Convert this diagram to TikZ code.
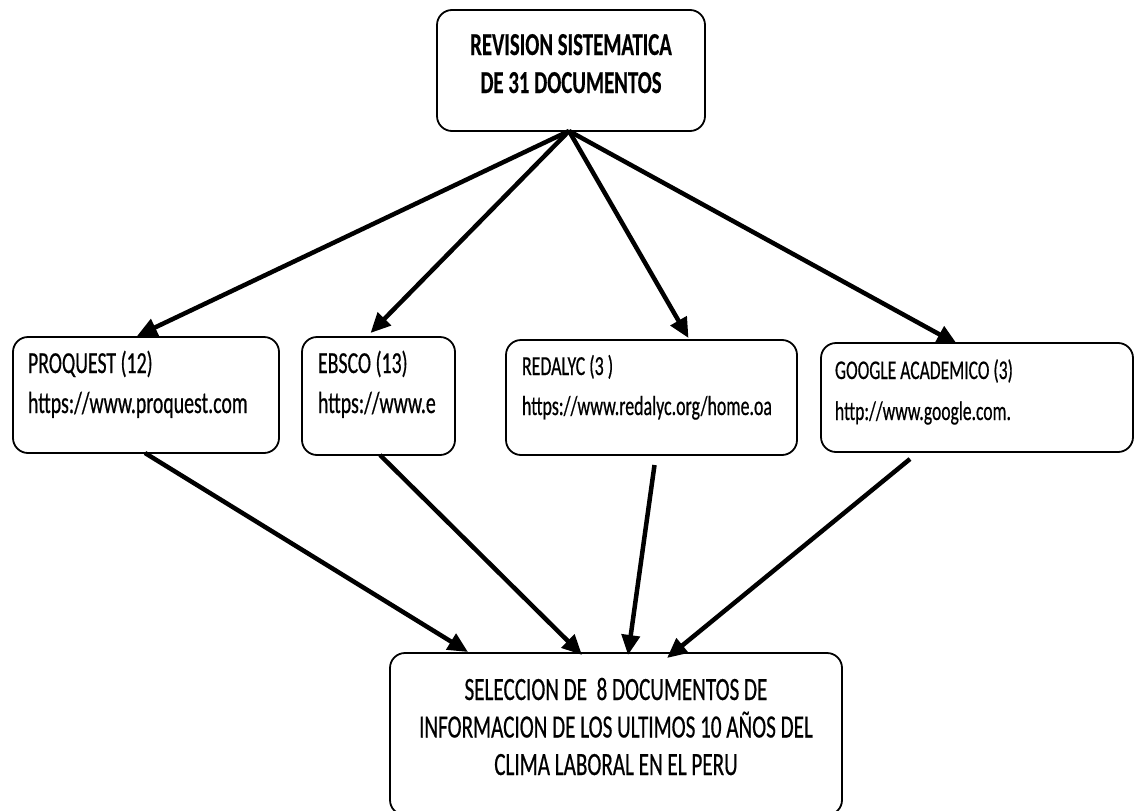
\documentclass[tikz,border=0pt]{standalone}
\usepackage{fontspec}
\setmainfont{Carlito}[FakeStretch=0.65, UprightFeatures={FakeBold=0.5}, BoldFeatures={FakeBold=0.3}]
\usetikzlibrary{arrows.meta}
\tikzset{
  box/.style={draw=black, line width=1.8pt, rounded corners=15pt, inner sep=0pt, outer sep=0pt, fill=white},
  arr/.style={line width=4.5pt, -{Triangle[length=20pt,width=18pt]}},
}
\begin{document}
\begin{tikzpicture}[x=1pt,y=-1pt]
\useasboundingbox[fill=white] (0,0) rectangle (1135,811);
% top
\node[box] (top) at (571,70.5) {\begin{minipage}[c][121pt][t]{268pt}\centering\fontsize{32}{38}\selectfont\bfseries\rule{0pt}{45pt}REVISION SISTEMATICA\\DE 31 DOCUMENTOS\end{minipage}};
% middle row
\node[box] (pq) at (146,395) {\begin{minipage}[c][116pt][t]{266pt}\leftskip=15pt\fontsize{30.5}{40}\selectfont\rule{0pt}{36pt}PROQUEST (12)\\https://www.proquest.com\end{minipage}};
\node[box] (eb) at (378.5,396) {\begin{minipage}[c][118pt][t]{153pt}\leftskip=16pt\fontsize{30.5}{40}\selectfont\rule{0pt}{36pt}EBSCO (13)\\https://www.e\end{minipage}};
\node[box] (rd) at (651.5,397.5) {\begin{minipage}[c][115pt][t]{291pt}\leftskip=16pt\fontsize{27.5}{40}\selectfont\rule{0pt}{35pt}REDALYC (3 )\\https://www.redalyc.org/home.oa\end{minipage}};
\node[box] (gg) at (977,397.5) {\begin{minipage}[c][109pt][t]{312pt}\leftskip=14pt\fontsize{27}{41}\selectfont\rule{0pt}{36pt}GOOGLE ACADEMICO (3)\\http://www.google.com.\end{minipage}};
% bottom
\node[box] (bot) at (616,734) {\begin{minipage}[c][162pt][t]{452pt}\centering\fontsize{32.5}{37.5}\selectfont\rule{0pt}{47pt}SELECCION DE \ 8 DOCUMENTOS DE\\INFORMACION DE LOS ULTIMOS 10 AÑOS DEL\\CLIMA LABORAL EN EL PERU\end{minipage}};
% arrows from top
\draw[arr] ([xshift=-2]top.south) -- ([shift={(-9,-1)}]pq.north);
\draw[arr] ([xshift=-2]top.south) -- ([shift={(-8,-4)}]eb.north);
\draw[arr] ([xshift=-2]top.south) -- ([shift={(37,-2)}]rd.north);
\draw[arr] ([xshift=-2]top.south) -- ([shift={(-20,1)}]gg.north);
% arrows to bottom
\draw[arr] ([xshift=-1]pq.south) -- ([shift={(-148,-1)}]bot.north);
\draw[arr] ([xshift=1.5]eb.south) -- ([shift={(-34,2)}]bot.north);
\draw[arr] ([shift={(3,10)}]rd.south) -- ([shift={(12,2)}]bot.north);
\draw[arr] ([shift={(-67,7)}]gg.south) -- ([shift={(51,5)}]bot.north);
\end{tikzpicture}
\end{document}
